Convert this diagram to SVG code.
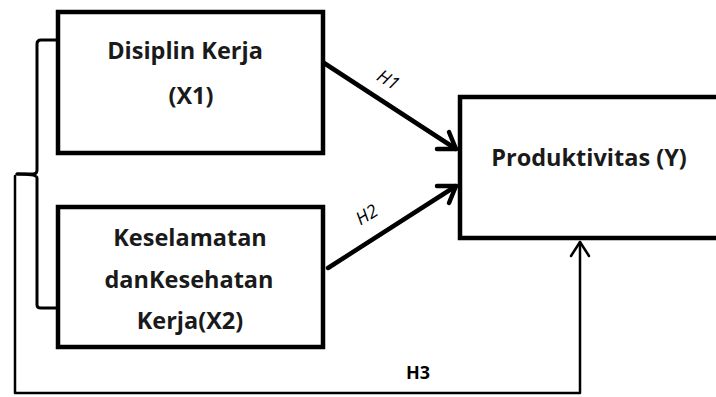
<svg xmlns="http://www.w3.org/2000/svg" width="716" height="397" viewBox="0 0 716 397">
<style>
.box{fill:#fff;stroke:#000;stroke-width:4.5}
.t{font-family:"Open Sans","Noto Sans",sans-serif;font-weight:bold;font-size:23.5px;fill:#1a1a1a;text-anchor:middle}
.c{fill:none;stroke:#000;stroke-linecap:round;stroke-linejoin:round}
.h{font-family:"Open Sans","Noto Sans",sans-serif;font-size:18px;fill:#000;text-anchor:middle}
</style>
<rect width="716" height="397" fill="#fff"/>
<g id="connectors">
<path class="c" stroke-width="3" d="M57,40 H41 Q37,40 37,44 V170 Q37,174 33,174 H17"/>
<path class="c" stroke-width="3" d="M17,174 Q37,174 37,178 V305 Q37,308 41,308 H57"/>
<path class="c" stroke-width="2.5" d="M15,176 V393 H580 V242"/>
<path class="c" stroke-width="2.5" d="M571,256 L580,242 L589,256"/>
<path class="c" stroke-width="4.5" d="M324,63 L456,149"/>
<path class="c" stroke-width="4.5" d="M437,149 H456 L449,132"/>
<path class="c" stroke-width="4.5" d="M328,268 L456,186"/>
<path class="c" stroke-width="4.5" d="M437,186 H456 L449,203"/>
<text class="h" font-style="italic" transform="translate(385,85) rotate(32)">H1</text>
<text class="h" font-style="italic" transform="translate(370,220) rotate(-32)">H2</text>
<text class="h" font-weight="bold" x="418" y="379">H3</text>
</g>
<g id="x1">
<rect class="box" x="58" y="12" width="265" height="141"/>
<text class="t" x="185" y="59">Disiplin Kerja</text>
<text class="t" x="191" y="104">(X1)</text>
</g>
<g id="x2">
<rect class="box" x="58" y="207" width="265" height="140"/>
<text class="t" x="190" y="246">Keselamatan</text>
<text class="t" x="189" y="288">danKesehatan</text>
<text class="t" x="190" y="329">Kerja(X2)</text>
</g>
<g id="y">
<rect class="box" x="460" y="97" width="262" height="141"/>
<text class="t" x="589" y="166">Produktivitas (Y)</text>
</g>
</svg>
